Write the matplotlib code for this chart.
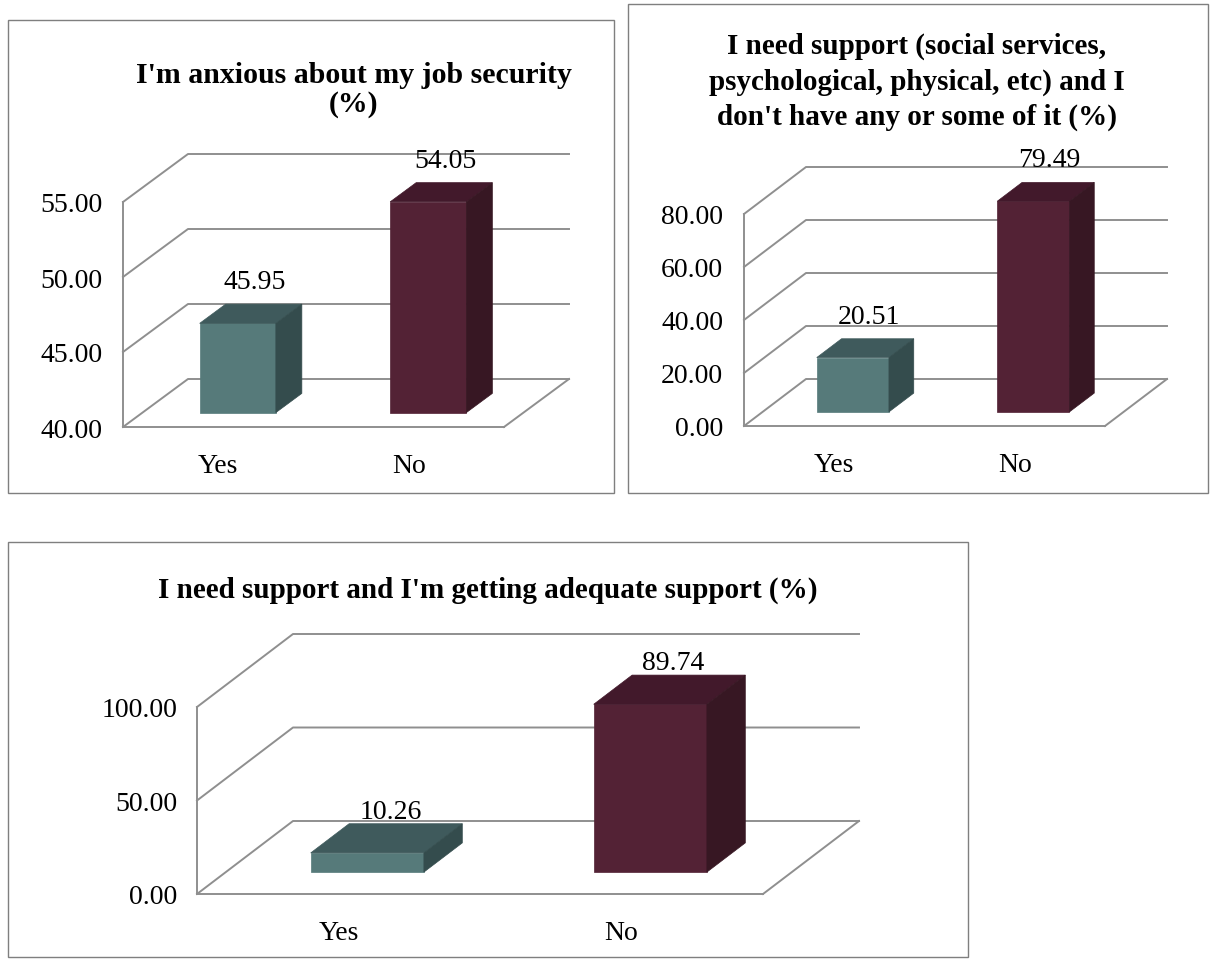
import matplotlib
matplotlib.use("Agg")
import matplotlib.pyplot as plt
from matplotlib.patches import Polygon, Rectangle

plt.rcParams['font.family'] = ['Liberation Serif', 'DejaVu Serif']

W, H = 1211, 962

categories = ["Yes", "No"]

anxious_title = "I'm anxious about my job security\n(%)"
anxious_values = [45.95, 54.05]
anxious_ticks = [40, 45, 50, 55]

no_support_title = ("I need support (social services,\n"
                    "psychological, physical, etc) and I\n"
                    "don't have any or some of it (%)")
no_support_values = [20.51, 79.49]
no_support_ticks = [0, 20, 40, 60, 80]

adequate_title = "I need support and I'm getting adequate support (%)"
adequate_values = [10.26, 89.74]
adequate_ticks = [0, 50, 100]

face_colors = [("#567a7a", "#3f5a5c", "#344c4d"),   # front, top, side
               ("#532235", "#42192b", "#371723")]
grid_col = "#8f8f8f"


def px_axes(fig, left, right, top, bottom):
    return fig.add_axes([left / W, 1 - bottom / H, (right - left) / W, (bottom - top) / H])


def panel_box(fig, left, top, right, bottom):
    fig.patches.append(Rectangle((left / W, 1 - bottom / H), (right - left) / W,
                                 (bottom - top) / H, transform=fig.transFigure,
                                 fill=False, edgecolor="#7f7f7f", lw=1.0))


def bar3d(fig, floor, depth_px, values, ticks, title, title_xy, title_size,
          label_gap, tick_size=20, cat_pad=19, tick_pad=15, title_ls=1.2):
    left, right, top, bottom = floor
    ax = px_axes(fig, left, right, top, bottom)
    vmin, vmax = ticks[0], ticks[-1]
    ncat = len(values)
    ax.set_xlim(0, ncat)
    ax.set_ylim(vmin, vmax)
    # depth offset converted to data units
    ddx = depth_px[0] * ncat / (right - left)
    ddy = depth_px[1] * (vmax - vmin) / (bottom - top)

    for side in ("top", "right"):
        ax.spines[side].set_visible(False)
    for side in ("left", "bottom"):
        ax.spines[side].set_color(grid_col)
        ax.spines[side].set_linewidth(1.4)
    ax.set_yticks(ticks)
    ax.set_yticklabels([f"{t:.2f}" for t in ticks], fontsize=tick_size)
    ax.set_xticks([i + 0.5 for i in range(ncat)])
    ax.set_xticklabels(categories, fontsize=tick_size)
    ax.tick_params(length=0)
    ax.tick_params(axis="y", pad=tick_pad)
    ax.tick_params(axis="x", pad=cat_pad)
    ax.patch.set_visible(False)

    # side wall diagonals and back wall gridlines
    for t in ticks:
        ax.plot([0, ddx, ncat + ddx], [t, t + ddy, t + ddy], color=grid_col,
                lw=1.4, clip_on=False, zorder=1)
    ax.plot([ncat, ncat + ddx], [vmin, vmin + ddy], color=grid_col, lw=1.4,
            clip_on=False, zorder=1)

    d0, d1, hw = 0.3, 0.7, 0.2
    for i, v in enumerate(values):
        front, topc, sidec = face_colors[i]
        c = i + 0.5
        xl, xr = c - hw + d0 * ddx, c + hw + d0 * ddx
        yb, yt = vmin + d0 * ddy, v + d0 * ddy
        bx, by = (d1 - d0) * ddx, (d1 - d0) * ddy
        faces = [
            ([(xl, yb), (xr, yb), (xr, yt), (xl, yt)], front),
            ([(xl, yt), (xr, yt), (xr + bx, yt + by), (xl + bx, yt + by)], topc),
            ([(xr, yb), (xr + bx, yb + by), (xr + bx, yt + by), (xr, yt)], sidec),
        ]
        for pts, col in faces:
            ax.add_patch(Polygon(pts, closed=True, facecolor=col, edgecolor=col,
                                 lw=0.5, clip_on=False, zorder=3))
        ax.annotate(f"{v:.2f}", xy=(c + (d0 + d1) / 2 * ddx, yt + by),
                    xytext=(4, label_gap), textcoords="offset pixels",
                    ha="center", va="bottom", fontsize=tick_size, zorder=4,
                    annotation_clip=False)

    fig.text(title_xy[0] / W, 1 - title_xy[1] / H, title, ha="center", va="center",
             fontsize=title_size, fontweight="bold", linespacing=title_ls)
    return ax


fig = plt.figure(figsize=(W / 100, H / 100), dpi=100)

panel_box(fig, 8, 21, 614, 494)
bar3d(fig, (123, 504, 203, 428), (65, 48), anxious_values, anxious_ticks,
      anxious_title, (354, 90), 21.5, 10, title_ls=1.1)

panel_box(fig, 628, 5, 1208, 494)
bar3d(fig, (744, 1105, 215, 427), (62, 47), no_support_values, no_support_ticks,
      no_support_title, (917, 82), 21, 10, title_ls=1.38)

panel_box(fig, 8, 543, 968, 958)
bar3d(fig, (197, 763, 708, 895), (96, 73), adequate_values, adequate_ticks,
      adequate_title, (488, 590), 21, 0, tick_pad=14)

fig.savefig("out.png", dpi=100)
